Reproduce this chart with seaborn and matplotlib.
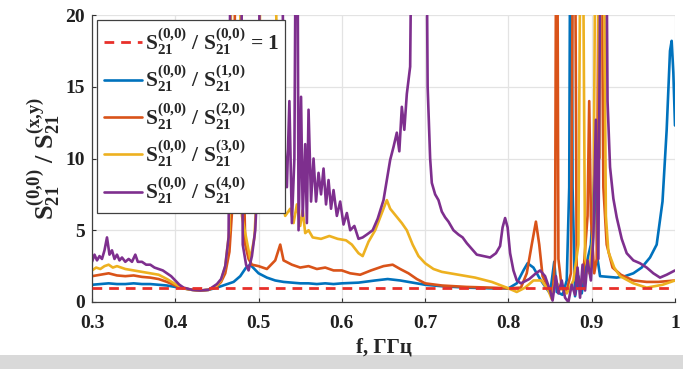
import matplotlib
matplotlib.use("Agg")
import matplotlib.pyplot as plt
import seaborn as sns
from matplotlib.patches import Rectangle

# ---------------- data ----------------
ref_f = [0.30, 1.00]
ref_y = [1.0, 1.0]

blue_f = [0.300, 0.310, 0.320, 0.330, 0.340, 0.350, 0.360, 0.370, 0.380, 0.390,
          0.400, 0.410, 0.420, 0.430, 0.440, 0.450, 0.460, 0.470, 0.478, 0.485,
          0.490, 0.495, 0.500, 0.510, 0.520, 0.530, 0.540, 0.550, 0.560, 0.570,
          0.580, 0.590, 0.600, 0.620, 0.640, 0.655, 0.670, 0.685, 0.700, 0.720,
          0.750, 0.780, 0.800, 0.810, 0.818, 0.823, 0.830, 0.838, 0.845, 0.850,
          0.855, 0.858, 0.865, 0.870, 0.873, 0.875, 0.877, 0.880, 0.884, 0.888,
          0.893, 0.899, 0.904, 0.907, 0.910, 0.920, 0.930, 0.940, 0.950, 0.960,
          0.970, 0.978, 0.985, 0.990, 0.994, 0.996, 0.998, 1.000]
blue_y = [1.20, 1.25, 1.30, 1.25, 1.25, 1.30, 1.25, 1.25, 1.20, 1.15,
          1.05, 0.95, 0.85, 0.80, 0.85, 1.00, 1.20, 1.40, 1.80, 2.40,
          2.60, 2.30, 2.00, 1.70, 1.50, 1.40, 1.35, 1.30, 1.30, 1.25,
          1.30, 1.25, 1.30, 1.35, 1.50, 1.60, 1.50, 1.35, 1.20, 1.10,
          1.00, 0.95, 0.95, 1.30, 2.20, 2.70, 2.40, 1.60, 1.00, 0.60,
          2.80, 0.70, 0.50, 1.50, 8.00, 40.0, 8.00, 0.40, 1.80, 0.60,
          2.50, 4.00, 9.90, 3.00, 1.80, 1.75, 1.70, 1.80, 2.00, 2.40,
          3.10, 4.00, 7.00, 12.0, 17.5, 18.2, 16.0, 12.3]

orange_f = [0.300, 0.310, 0.320, 0.330, 0.340, 0.350, 0.360, 0.370, 0.380, 0.390,
            0.400, 0.410, 0.420, 0.430, 0.440, 0.450, 0.455, 0.460, 0.465, 0.470,
            0.474, 0.480, 0.484, 0.488, 0.492, 0.500, 0.510, 0.520, 0.526, 0.530,
            0.540, 0.550, 0.560, 0.570, 0.580, 0.590, 0.600, 0.610, 0.622, 0.635,
            0.650, 0.661, 0.670, 0.680, 0.690, 0.700, 0.720, 0.750, 0.780, 0.800,
            0.815, 0.822, 0.828, 0.833, 0.837, 0.841, 0.848, 0.853, 0.856, 0.858,
            0.860, 0.864, 0.870, 0.875, 0.879, 0.882, 0.886, 0.890, 0.895, 0.897,
            0.899, 0.903, 0.906, 0.910, 0.914, 0.918, 0.925, 0.935, 0.950, 0.966,
            0.980, 1.000]
orange_y = [1.80, 1.90, 2.00, 1.85, 1.80, 1.85, 1.75, 1.70, 1.60, 1.40,
            1.15, 0.95, 0.85, 0.80, 0.85, 1.10, 1.40, 2.00, 3.50, 8.00,
            40.0, 15.0, 4.00, 3.00, 2.60, 2.50, 2.30, 2.90, 4.00, 2.90,
            2.60, 2.40, 2.50, 2.30, 2.40, 2.20, 2.20, 2.00, 1.90, 2.20,
            2.50, 2.60, 2.30, 2.00, 1.60, 1.30, 1.15, 1.05, 1.00, 0.95,
            1.00, 2.00, 4.00, 5.60, 4.00, 1.80, 1.00, 0.50, 3.00, 40.0,
            3.00, 1.00, 0.80, 2.00, 40.0, 2.00, 1.00, 2.00, 6.00, 14.0,
            6.00, 2.00, 3.00, 40.0, 8.00, 4.00, 2.40, 1.90, 1.50, 1.40,
            1.40, 1.50]

yellow_f = [0.300, 0.305, 0.310, 0.315, 0.320, 0.325, 0.330, 0.340, 0.350, 0.360,
            0.370, 0.380, 0.390, 0.400, 0.410, 0.420, 0.430, 0.440, 0.450, 0.455,
            0.460, 0.465, 0.469, 0.476, 0.480, 0.485, 0.490, 0.495, 0.500, 0.505,
            0.515, 0.525, 0.532, 0.538, 0.542, 0.546, 0.550, 0.553, 0.556, 0.560,
            0.565, 0.575, 0.585, 0.595, 0.605, 0.612, 0.620, 0.625, 0.632, 0.640,
            0.648, 0.654, 0.658, 0.665, 0.672, 0.678, 0.685, 0.692, 0.700, 0.710,
            0.720, 0.740, 0.760, 0.780, 0.798, 0.810, 0.820, 0.830, 0.840, 0.848,
            0.852, 0.856, 0.862, 0.870, 0.878, 0.884, 0.888, 0.892, 0.897, 0.902,
            0.906, 0.909, 0.913, 0.917, 0.920, 0.927, 0.934, 0.950, 0.966, 0.985,
            1.000]
yellow_y = [2.20, 2.40, 2.30, 2.50, 2.60, 2.40, 2.50, 2.30, 2.20, 2.10,
            2.00, 1.90, 1.60, 1.25, 0.95, 0.85, 0.80, 0.85, 1.15, 1.50,
            2.50, 5.00, 40.0, 40.0, 6.00, 4.50, 3.00, 4.50, 10.0, 40.0,
            40.0, 8.00, 6.00, 6.50, 5.50, 6.80, 5.30, 6.40, 4.80, 5.00,
            4.50, 4.40, 4.60, 4.40, 4.30, 4.00, 3.40, 3.20, 4.20, 5.00,
            6.20, 7.10, 6.50, 6.00, 5.50, 5.00, 4.00, 3.20, 2.70, 2.30,
            2.10, 1.90, 1.70, 1.40, 1.00, 0.70, 1.00, 1.50, 1.50, 0.80,
            0.20, 1.50, 1.00, 0.60, 1.50, 4.00, 40.0, 3.00, 2.00, 5.00,
            40.0, 10.0, 40.0, 6.00, 3.50, 2.40, 1.80, 1.30, 1.00, 1.20,
            1.50]

purple_f = [0.300, 0.303, 0.306, 0.309, 0.312, 0.315, 0.318, 0.321, 0.324, 0.327,
            0.330, 0.333, 0.336, 0.340, 0.344, 0.348, 0.352, 0.355, 0.360, 0.365,
            0.370, 0.375, 0.380, 0.385, 0.390, 0.395, 0.400, 0.405, 0.410, 0.420,
            0.430, 0.440, 0.450, 0.455, 0.460, 0.464, 0.468, 0.478, 0.481, 0.485,
            0.488, 0.492, 0.496, 0.500, 0.503, 0.527, 0.530, 0.534, 0.537, 0.540,
            0.543, 0.546, 0.548, 0.551, 0.553, 0.556, 0.558, 0.560, 0.563, 0.566,
            0.569, 0.572, 0.575, 0.578, 0.581, 0.584, 0.587, 0.590, 0.594, 0.598,
            0.602, 0.606, 0.610, 0.615, 0.620, 0.625, 0.630, 0.637, 0.643, 0.650,
            0.654, 0.658, 0.662, 0.666, 0.669, 0.672, 0.675, 0.678, 0.682, 0.686,
            0.700, 0.703, 0.706, 0.708, 0.712, 0.716, 0.720, 0.724, 0.728, 0.734,
            0.740, 0.745, 0.750, 0.756, 0.762, 0.770, 0.778, 0.785, 0.790, 0.793,
            0.796, 0.799, 0.802, 0.806, 0.810, 0.815, 0.825, 0.833, 0.838, 0.844,
            0.850, 0.853, 0.857, 0.860, 0.864, 0.868, 0.872, 0.876, 0.880, 0.883,
            0.886, 0.889, 0.892, 0.895, 0.899, 0.902, 0.905, 0.908, 0.912, 0.916,
            0.919, 0.922, 0.926, 0.930, 0.936, 0.942, 0.950, 0.958, 0.966, 0.974,
            0.982, 0.990, 1.000]
purple_y = [2.80, 3.30, 2.90, 3.20, 3.00, 3.60, 4.50, 3.30, 3.60, 3.00,
            3.30, 2.90, 3.10, 2.80, 3.00, 2.80, 3.30, 2.80, 2.80, 2.60,
            2.60, 2.40, 2.30, 2.20, 2.00, 1.80, 1.50, 1.20, 1.00, 0.85,
            0.80, 0.85, 1.25, 1.60, 2.50, 4.50, 40.0, 40.0, 4.00, 2.60,
            2.20, 3.20, 5.00, 10.0, 40.0, 40.0, 12.0, 8.00, 14.0, 5.50,
            10.0, 40.0, 5.00, 14.3, 6.00, 11.0, 5.50, 13.4, 7.00, 10.0,
            7.00, 9.00, 7.50, 9.30, 6.80, 8.50, 6.50, 7.80, 6.00, 7.00,
            5.40, 6.20, 5.00, 5.30, 4.40, 4.50, 4.70, 5.00, 5.80, 7.10,
            8.50, 9.90, 10.8, 11.8, 10.5, 13.6, 12.0, 14.5, 16.4, 40.0,
            40.0, 15.0, 10.0, 8.30, 7.50, 7.10, 6.30, 5.90, 5.60, 5.00,
            4.70, 4.50, 4.10, 3.70, 3.30, 3.20, 3.10, 3.40, 3.90, 5.20,
            5.85, 5.20, 3.40, 2.20, 1.50, 1.30, 1.60, 2.00, 2.20, 1.80,
            0.80, 0.10, 1.80, 0.60, 1.50, 0.30, 0.00, 1.20, 0.50, 2.40,
            0.30, 2.60, 0.80, 2.90, 1.50, 4.50, 12.7, 3.00, 40.0, 40.0,
            14.0, 9.40, 7.20, 5.90, 4.40, 3.40, 2.90, 2.70, 2.40, 2.00,
            1.70, 1.90, 2.20]

x_ticks = [0.3, 0.4, 0.5, 0.6, 0.7, 0.8, 0.9, 1.0]
x_tick_labels = ["0.3", "0.4", "0.5", "0.6", "0.7", "0.8", "0.9", "1"]
y_ticks = [0, 5, 10, 15, 20]

labels = [r"$\mathregular{S_{21}^{(0{,}0)}}$ / $\mathregular{S_{21}^{(0{,}0)}}$ = 1",
          r"$\mathregular{S_{21}^{(0{,}0)}}$ / $\mathregular{S_{21}^{(1{,}0)}}$",
          r"$\mathregular{S_{21}^{(0{,}0)}}$ / $\mathregular{S_{21}^{(2{,}0)}}$",
          r"$\mathregular{S_{21}^{(0{,}0)}}$ / $\mathregular{S_{21}^{(3{,}0)}}$",
          r"$\mathregular{S_{21}^{(0{,}0)}}$ / $\mathregular{S_{21}^{(4{,}0)}}$"]
colors = ["#E8302A", "#0072BD", "#D95319", "#EDB120", "#7E2F8E"]

# ---------------- style ----------------
sns.set_style("ticks")
plt.rcParams["font.family"] = ["Liberation Serif", "DejaVu Serif"]
plt.rcParams["font.weight"] = "bold"
plt.rcParams["mathtext.fontset"] = "custom"
plt.rcParams["mathtext.rm"] = "Liberation Serif:bold"
plt.rcParams["mathtext.it"] = "Liberation Serif:bold"
plt.rcParams["mathtext.bf"] = "Liberation Serif:bold"

fig = plt.figure(figsize=(6.83, 3.69), dpi=100)
ax = fig.add_axes([92 / 683, 1 - 302 / 369, 583 / 683, 287 / 369])

series = [(ref_f, ref_y), (blue_f, blue_y), (orange_f, orange_y),
          (yellow_f, yellow_y), (purple_f, purple_y)]
for i, ((fx, fy), lab, col) in enumerate(zip(series, labels, colors)):
    if i == 0:
        sns.lineplot(x=fx, y=fy, ax=ax, color=col, linewidth=2.0, label=lab,
                     estimator=None, dashes=False, linestyle=(0, (3.5, 2.5)), zorder=3)
    else:
        sns.lineplot(x=fx, y=fy, ax=ax, color=col, linewidth=1.9, label=lab,
                     estimator=None, zorder=2 + i * 0.1)

ax.set_xlim(0.3, 1.0)
ax.set_ylim(0, 20)
ax.set_xticks(x_ticks)
ax.set_xticklabels(x_tick_labels)
ax.set_yticks(y_ticks)
ax.grid(True, color="#e3e3e3", linewidth=0.9)
ax.set_axisbelow(True)
ax.tick_params(axis="both", labelsize=14, direction="in", length=3, width=0.8,
               colors="#303030", labelcolor="#202020")
ax.tick_params(axis="x", pad=9)
ax.tick_params(axis="y", pad=5)
for lbl in ax.get_xticklabels() + ax.get_yticklabels():
    lbl.set_fontweight("bold")
for s in ["left", "bottom"]:
    ax.spines[s].set_color("#404040")
    ax.spines[s].set_linewidth(0.9)
for s in ["top", "right"]:
    ax.spines[s].set_visible(False)

ax.set_xlabel("f, ГГц", fontsize=15, fontweight="bold", labelpad=4)
ax.set_ylabel(r"$\mathregular{S_{21}^{(0{,}0)}}$ / $\mathregular{S_{21}^{(x{,}y)}}$",
              fontsize=19, fontweight="bold", labelpad=2)

leg = ax.legend(loc="upper left", bbox_to_anchor=(0.009, 0.983), borderaxespad=0,
                prop={"family": "Liberation Serif", "weight": "bold", "size": 15.5},
                handlelength=1.8, handletextpad=0.1, labelspacing=0.32,
                borderpad=0.3, frameon=True, fancybox=False, framealpha=1.0,
                edgecolor="#404040")
leg.get_frame().set_linewidth(0.9)

fig.patches.append(Rectangle((0, 0), 1, 14 / 369, transform=fig.transFigure,
                             facecolor="#d9d9d9", edgecolor="none", zorder=-1))

fig.savefig("out.png", dpi=100)
